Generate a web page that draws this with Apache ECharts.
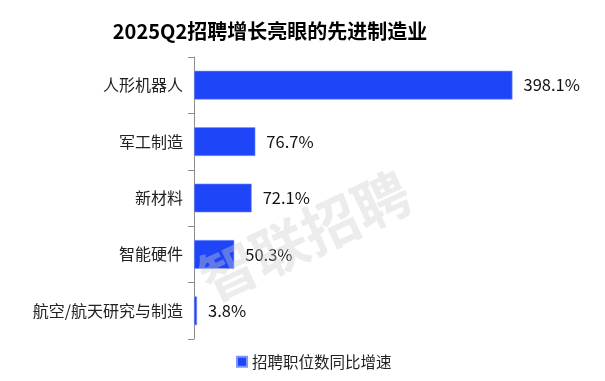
<!DOCTYPE html>
<html>
<head>
<meta charset="utf-8">
<script src="https://cdn.jsdelivr.net/npm/echarts@6/dist/echarts.min.js"></script>
<style>html,body{margin:0;padding:0;background:#fff;}#c{width:605px;height:381px;}</style>
</head>
<body>
<div id="c"></div>
<script>
const titleText = '2025Q2招聘增长亮眼的先进制造业';
const categories = ['人形机器人', '军工制造', '新材料', '智能硬件', '航空/航天研究与制造'];
const seriesName = '招聘职位数同比增速';
const growthValues = [398.1, 76.7, 72.1, 50.3, 3.8];
const watermarkText = '智联招聘';

const FONT = '"Noto Sans CJK SC", "Noto Sans", sans-serif';
const chart = echarts.init(document.getElementById('c'), null, {renderer: 'canvas'});
chart.setOption({
  backgroundColor: '#ffffff',
  animation: false,
  title: {
    text: titleText,
    left: 265,
    textAlign: 'center',
    top: 16,
    textStyle: {fontFamily: FONT, fontSize: 20, fontWeight: 'bold', color: '#000'}
  },
  legend: {
    data: [seriesName],
    left: 231,
    top: 349,
    icon: 'rect',
    itemWidth: 10,
    itemHeight: 10,
    itemGap: 6,
    textStyle: {fontFamily: FONT, fontSize: 15.5, color: '#222'}
  },
  grid: {left: 194, right: 51, top: 57, bottom: 42, containLabel: false},
  xAxis: {
    type: 'value', min: 0, max: 450, show: false
  },
  yAxis: {
    type: 'category',
    data: categories,
    inverse: true,
    axisLine: {show: true, lineStyle: {color: '#8c8c8c', width: 1}},
    axisTick: {show: true, length: 6, lineStyle: {color: '#8c8c8c'}},
    axisLabel: {fontFamily: FONT, fontSize: 16, color: '#222', margin: 11}
  },
  series: [{
    name: seriesName,
    type: 'bar',
    data: growthValues,
    barCategoryGap: '49%',
    itemStyle: {color: '#1f45f8', borderColor: '#7d95ff', borderWidth: 0.6},
    label: {
      show: true, position: 'right', distance: 11,
      fontFamily: FONT, fontSize: 16.5, color: '#111',
      formatter: p => p.value + '%'
    },
    z: 2
  }],
  graphic: [{
    type: 'text',
    x: 305, y: 236,
    rotation: 25 * Math.PI / 180,
    z: 100,
    style: {
      text: watermarkText,
      font: 'bold 56px "Noto Sans CJK SC", sans-serif',
      fill: 'rgba(205,205,205,0.38)',
      align: 'center',
      verticalAlign: 'middle'
    }
  }]
});
</script>
</body>
</html>
